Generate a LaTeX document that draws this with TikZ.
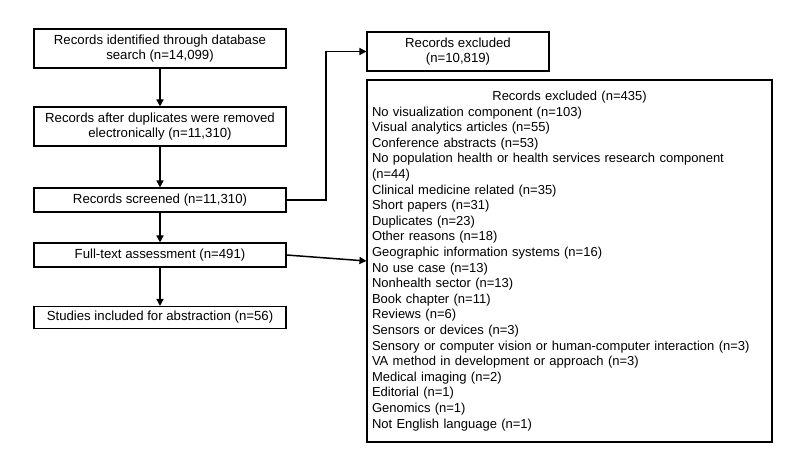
\documentclass[tikz,border=0pt]{standalone}
\usepackage{fontspec}
\setmainfont{Liberation Sans}
\usepackage{tikz}
\usetikzlibrary{positioning, calc}
\usetikzlibrary{arrows.meta}

\begin{document}
\begin{tikzpicture}[x=1pt,y=-1pt,draw=black!100]
	\def \leftcol{160}
	\tikzstyle{flow-box}=[rectangle,draw=black!100,line width=1.1pt,inner sep=0pt,minimum width=252pt,align=center,font=\fontsize{13.2}{15}\selectfont]
	\tikzstyle{flow-arrow}=[line width=1.5pt,-{Triangle[length=7pt,width=7pt]}]
	\useasboundingbox (0,0) rectangle (800,450);

	% left column
	\node[flow-box, minimum height=39pt] 	(identified)	at (\leftcol,48.5)	{Records identified through database\\search (n=14,099)};
	\node[flow-box, minimum height=39pt] 	(dedup)	at (\leftcol,126.5)	{Records after duplicates were removed\\electronically (n=11,310)};
	\node[flow-box, minimum height=24pt] 	(screened)	at (\leftcol,200)	{Records screened (n=11,310)};
	\node[flow-box, minimum height=24pt] 	(fulltext)	at (\leftcol,255)	{Full-text assessment (n=491)};
	\node[flow-box, minimum height=22pt] 	(included)	at (\leftcol,317.5)	{Studies included for abstraction (n=56)};

	% right column
	\node[flow-box, minimum width=182pt, minimum height=39pt] 	(excluded-a)	at (458,51.5)	{Records excluded\\(n=10,819)};
	\node[flow-box, minimum width=405pt, minimum height=362pt, text width=395pt, align=left, font=\fontsize{13}{15.6}\selectfont] 	(excluded-b)	at (569.5,261)	{\makebox[\linewidth][c]{Records excluded (n=435)}\\
		No visualization component (n=103)\\
		Visual analytics articles (n=55)\\
		Conference abstracts (n=53)\\
		No population health or health services research component\\
		(n=44)\\
		Clinical medicine related (n=35)\\
		Short papers (n=31)\\
		Duplicates (n=23)\\
		Other reasons (n=18)\\
		Geographic information systems (n=16)\\
		No use case (n=13)\\
		Nonhealth sector (n=13)\\
		Book chapter (n=11)\\
		Reviews (n=6)\\
		Sensors or devices (n=3)\\
		Sensory or computer vision or human-computer interaction (n=3)\\
		VA method in development or approach (n=3)\\
		Medical imaging (n=2)\\
		Editorial (n=1)\\
		Genomics (n=1)\\
		Not English language (n=1)};

	% arrows
	\coordinate (bend) at (326,51.5);
	\draw[flow-arrow] (identified) -- (dedup);
	\draw[flow-arrow] (dedup) -- (screened);
	\draw[flow-arrow] (screened) -- (fulltext);
	\draw[flow-arrow] (fulltext) -- (included);
	\draw[flow-arrow] (screened.east) -| (bend) -- (excluded-a.west);
	\draw[flow-arrow] (fulltext.east) -- (excluded-b.west);
\end{tikzpicture}
\end{document}
